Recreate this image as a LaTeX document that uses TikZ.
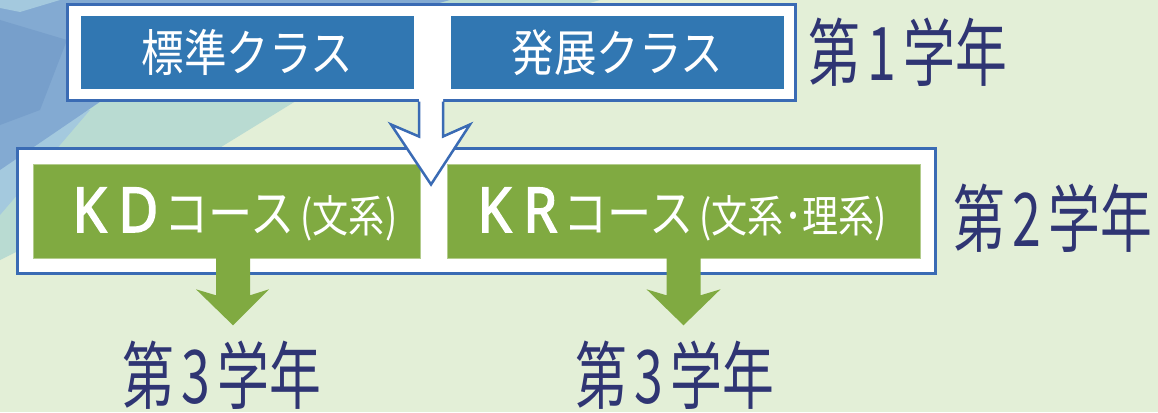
\documentclass[tikz,border=0pt]{standalone}
\usepackage{fontspec}
\newfontfamily\jpA[FakeStretch=0.85]{Noto Sans CJK JP}
\newfontfamily\jpS[FakeStretch=0.82]{Noto Sans CJK JP}
\newfontfamily\jpY[FakeStretch=0.70]{Noto Sans CJK JP}
\newfontfamily\latB[FakeStretch=0.88, FakeBold=2.5]{Noto Sans}
\definecolor{bgpale}{HTML}{E3EFD7}
\definecolor{bgblue}{HTML}{83AAD2}
\definecolor{bgblued}{HTML}{779FCB}
\definecolor{bgteal}{HTML}{B9DBD2}
\definecolor{bglight}{HTML}{A4C9DE}
\definecolor{clsblue}{HTML}{3177B2}
\definecolor{bordblue}{HTML}{3A6BB4}
\definecolor{crsgreen}{HTML}{80AA41}
\definecolor{navy}{HTML}{2F3573}
\tikzset{
  outerbox/.style={draw=bordblue, line width=3pt, fill=white, inner sep=0pt},
  classbox/.style={fill=clsblue, minimum width=333pt, minimum height=73pt, inner sep=0pt,
    text=white, font=\jpA\fontsize{50}{50}\selectfont},
  coursebox/.style={fill=crsgreen, draw=crsgreen!60!white, line width=0.6pt, minimum height=94pt, inner sep=0pt},
  coursetext/.style={text=white, inner sep=0pt},
  yearlabel/.style={text=navy, inner sep=0pt, font=\jpY\fontsize{74}{74}\selectfont},
  whitearrow/.style={draw=bordblue, line width=2.5pt, line join=miter},
}
\newcommand{\yeartext}[1]{第\hspace{7pt}#1\hspace{7pt}学年}
\newcommand{\bigLetters}[2]{{\latB\fontsize{62}{62}\selectfont #1\hspace{12pt}#2\hspace{6pt}}}
\newcommand{\kata}[1]{{\jpA\fontsize{52}{52}\selectfont #1}}
\newcommand{\paren}[1]{{\jpS\fontsize{44}{44}\selectfont\hspace{6pt}(#1)}}
\begin{document}
\begin{tikzpicture}[x=1pt,y=-1pt]
\useasboundingbox (0,0) rectangle (1158,412);
% background
\fill[bgpale] (0,0) rectangle (1158,412);
\fill[bgteal] (0,0) -- (600,0) -- (330,80) -- (200,160) -- (0,260) -- cycle;
\fill[bglight] (0,120) -- (90,110) -- (0,215) -- cycle;
\fill[bgblue] (0,0) -- (450,0) -- (110,95) -- (0,170) -- cycle;
\fill[bgblued] (0,20) -- (67,40) -- (40,110) -- (0,125) -- cycle;
\fill[bglight] (0,0) -- (60,0) -- (20,12) -- (0,8) -- cycle;

% first year
\node[outerbox, minimum width=728pt, minimum height=95pt] (top) at (431,52.5) {};
\node[classbox] (std) at (247.5,52.5) {標準クラス};
\node[classbox] (adv) at (617.5,52.5) {発展クラス};
\node[yearlabel] (y1) at (908,52.5) {\yeartext{1}};

% second year
\node[outerbox, minimum width=918pt, minimum height=125pt] (mid) at (476,210.5) {};
\node[coursebox, minimum width=387pt] (kd) at (226.5,211) {};
\node[coursebox, minimum width=473pt] (kr) at (683.5,211) {};
\node[coursetext, anchor=base] (kdt) at (235,232) {\bigLetters{K}{D}\kata{コース}\paren{文系}};
\node[coursetext, anchor=base] (krt) at (682,232) {\bigLetters{K}{R}\kata{コース}\paren{文系･理系}};
\node[yearlabel] (y2) at (1053,218.5) {\yeartext{2}};

% white arrow from first year box to second year box
\coordinate (wa) at ([xshift=-12pt]top.south);
\fill[white] ([yshift=3pt]wa) -- ++(0,38) -- ++(-28,-12) -- ++(40,60) -- ++(39,-60) -- ++(-27,12) -- ++(0,-38) -- cycle;
\draw[whitearrow] (wa) -- ++(0,35) -- ++(-28,-12) -- ++(40,60) -- ++(39,-60) -- ++(-27,12) -- ++(0,-35);

% third year
\node[yearlabel] (y3a) at (222,375) {\yeartext{3}};
\node[yearlabel] (y3b) at (675,375) {\yeartext{3}};

% green arrows
\coordinate (ga) at ([xshift=-10.5pt,yshift=1pt]kd.south);
\fill[crsgreen] (ga) -- ++(0,38) -- ++(-20,-6) -- ++(37,36) -- ++(36,-36) -- ++(-19,6) -- ++(0,-38) -- cycle;
\coordinate (gb) at ([xshift=-17pt,yshift=1pt]kr.south);
\fill[crsgreen] (gb) -- ++(0,38) -- ++(-20,-6) -- ++(37,36) -- ++(37,-36) -- ++(-20,6) -- ++(0,-38) -- cycle;
\end{tikzpicture}
\end{document}
